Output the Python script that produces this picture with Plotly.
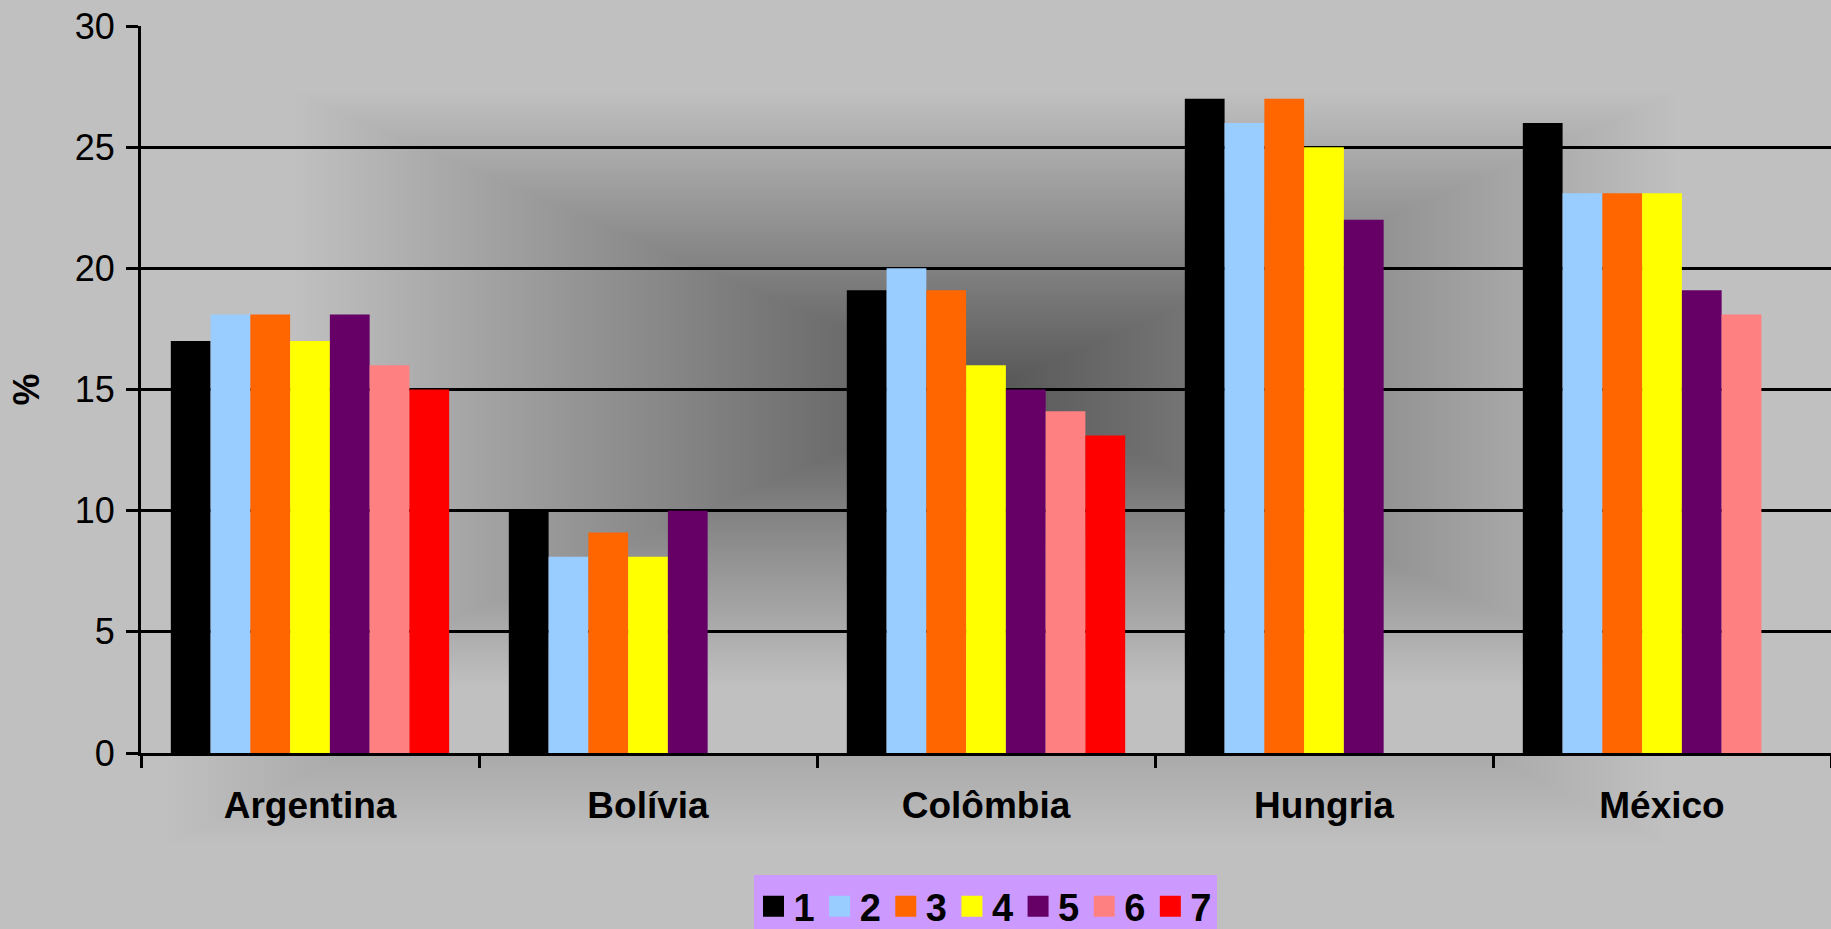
import base64
import struct
import zlib

import numpy as np
import plotly.graph_objects as go

# ---------------- data ----------------
categories = ["Argentina", "Bolívia", "Colômbia", "Hungria", "México"]
series_names = ["1", "2", "3", "4", "5", "6", "7"]
s1 = [17, 10, 19.1, 27, 26]
s2 = [18.1, 8.1, 20, 26, 23.1]
s3 = [18.1, 9.1, 19.1, 27, 23.1]
s4 = [17, 8.1, 16, 25, 23.1]
s5 = [18.1, 10, 15, 22, 19.1]
s6 = [16, None, 14.1, None, 18.1]
s7 = [15, None, 13.1, None, None]
series_values = [s1, s2, s3, s4, s5, s6, s7]
colors = ["#000000", "#99CCFF", "#FF6600", "#FFFF00", "#660066", "#FF8080", "#FF0000"]
y_ticks = [0, 5, 10, 15, 20, 25, 30]

# ---------------- layout geometry ----------------
W, H = 1831, 929
ML, MR, MT, MB = 141, 0, 26, 176
PW, PH = W - ML - MR, H - MT - MB


def gradient_png(w, h, c_center, c_edge, reach=0.82):
    """'From centre' rectangular gradient (Excel-like), grey-scale PNG data URI."""
    xs = (np.arange(w) + 0.5 - w / 2) / (w / 2)
    ys = (np.arange(h) + 0.5 - h / 2) / (h / 2)
    f = np.maximum(np.abs(xs)[None, :], np.abs(ys)[:, None])
    t = np.clip(f / reach, 0, 1)
    v = c_center + (c_edge - c_center) * t
    arr = np.clip(np.round(v), 0, 255).astype(np.uint8)
    raw = b"".join(b"\x00" + row.tobytes() for row in arr)

    def chunk(tag, d):
        c = struct.pack(">I", len(d)) + tag + d
        return c + struct.pack(">I", zlib.crc32(tag + d) & 0xFFFFFFFF)

    png = (b"\x89PNG\r\n\x1a\n"
           + chunk(b"IHDR", struct.pack(">IIBBBBB", w, h, 8, 0, 0, 0, 0))
           + chunk(b"IDAT", zlib.compress(raw, 9))
           + chunk(b"IEND", b""))
    return "data:image/png;base64," + base64.b64encode(png).decode()


chart_bg = gradient_png(W, H, 98, 0xC0)
plot_bg = gradient_png(PW, PH, 86, 0xC0)

fig = go.Figure()
for name, vals, col in zip(series_names, series_values, colors):
    fig.add_trace(go.Bar(x=categories, y=vals, name=name, marker_color=col,
                         marker_line_width=0, showlegend=False, legendgroup=name))
# legend proxies (larger square swatches)
for name, col in zip(series_names, colors):
    fig.add_trace(go.Scatter(x=[categories[0]], y=[None], mode="markers", name=name,
                             legendgroup=name,
                             marker=dict(symbol="square", size=16, color=col,
                                         line=dict(width=5, color=col))))

fig.update_layout(
    width=W, height=H, autosize=False,
    margin=dict(l=ML, r=MR, t=MT, b=MB, pad=0, autoexpand=False),
    paper_bgcolor="#C0C0C0", plot_bgcolor="rgba(0,0,0,0)",
    barmode="group", bargap=1.5 / 8.5, bargroupgap=0,
    font=dict(family="Arial, Liberation Sans, sans-serif", color="#000000"),
    images=[
        dict(source=chart_bg, xref="paper", yref="paper",
             x=-ML / PW, y=1 + MT / PH, sizex=W / PW, sizey=H / PH,
             xanchor="left", yanchor="top", sizing="stretch", layer="below"),
        dict(source=plot_bg, xref="paper", yref="paper",
             x=0, y=1, sizex=1, sizey=1,
             xanchor="left", yanchor="top", sizing="stretch", layer="below"),
    ],
    legend=dict(orientation="h", x=(985 - ML) / PW, xanchor="center",
                y=(MT + PH - 875) / PH, yanchor="top",
                bgcolor="#CC99FF", borderwidth=0,
                font=dict(size=38, weight="bold"),
                itemclick=False, itemdoubleclick=False),
    showlegend=True,
)
fig.update_yaxes(range=[0, 30], tickvals=y_ticks, showgrid=True, gridcolor="#000000",
                 gridwidth=2.5, zeroline=False, showline=True, linecolor="#000000",
                 linewidth=3, ticks="outside", ticklen=12, tickwidth=3, tickcolor="#000000",
                 tickfont=dict(size=36), ticklabelstandoff=4,
                 title=dict(text="%", font=dict(size=36, weight="bold"), standoff=25))
fig.update_xaxes(showgrid=False, showline=True, linecolor="#000000", linewidth=3,
                 ticks="outside", tickson="boundaries", ticklen=12, tickwidth=3,
                 tickcolor="#000000", tickfont=dict(size=37, weight="bold"),
                 ticklabelstandoff=18)

fig.write_html("out.html")
